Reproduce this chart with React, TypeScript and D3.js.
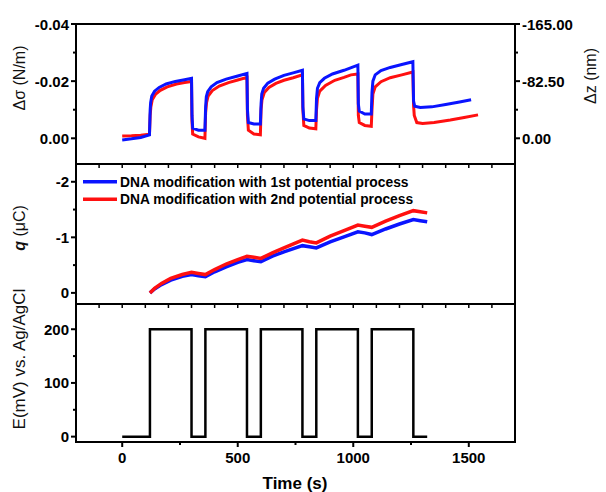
import React from "react";
import * as d3 from "d3";

// ---------- data ----------
const sigmaBlueT = [0, 40, 80, 118, 121, 123, 128, 140, 160, 190, 230, 270, 300, 302, 305, 330, 358, 361, 364, 370, 385, 410, 450, 500, 540, 542, 546, 570, 598, 601, 604, 612, 630, 660, 700, 740, 780, 782, 786, 810, 838, 841, 845, 855, 875, 910, 960, 1020, 1022, 1026, 1050, 1078, 1081, 1085, 1095, 1120, 1160, 1210, 1258, 1261, 1266, 1290, 1340, 1400, 1460, 1510];
const sigmaBlueV = [0.0006, 0.0002, -0.0003, -0.0012, -0.010, -0.0125, -0.0148, -0.0165, -0.0178, -0.019, -0.0199, -0.0205, -0.021, -0.008, -0.0035, -0.0028, -0.0028, -0.011, -0.0145, -0.0163, -0.018, -0.0195, -0.0207, -0.0218, -0.0227, -0.010, -0.0055, -0.005, -0.005, -0.012, -0.0155, -0.0175, -0.0193, -0.0207, -0.022, -0.0229, -0.0238, -0.011, -0.0068, -0.0062, -0.0062, -0.014, -0.0175, -0.0195, -0.021, -0.0225, -0.0238, -0.0256, -0.012, -0.0095, -0.0085, -0.0085, -0.016, -0.020, -0.0222, -0.0237, -0.0248, -0.0258, -0.0268, -0.013, -0.0112, -0.0108, -0.011, -0.0118, -0.0127, -0.0135];

const sigmaRedT = [0, 40, 80, 118, 121, 124, 130, 145, 165, 195, 235, 270, 300, 302, 305, 330, 358, 361, 365, 372, 390, 420, 460, 500, 540, 542, 546, 570, 598, 601, 605, 615, 635, 665, 700, 740, 780, 782, 786, 810, 838, 841, 845, 855, 880, 920, 960, 990, 1020, 1022, 1026, 1050, 1078, 1081, 1085, 1095, 1120, 1160, 1210, 1258, 1261, 1264, 1275, 1300, 1350, 1420, 1480, 1540];
const sigmaRedV = [-0.0008, -0.0009, -0.0011, -0.0014, -0.008, -0.011, -0.0135, -0.0155, -0.0168, -0.018, -0.019, -0.0195, -0.0199, -0.006, -0.0015, -0.0005, 0.0, -0.009, -0.0125, -0.0148, -0.0167, -0.0183, -0.0195, -0.0204, -0.0213, -0.008, -0.0028, -0.0015, -0.0012, -0.010, -0.0135, -0.016, -0.0178, -0.0192, -0.0203, -0.0212, -0.0222, -0.010, -0.0045, -0.0036, -0.0033, -0.010, -0.014, -0.0165, -0.0185, -0.0203, -0.0213, -0.0222, -0.0225, -0.008, -0.0055, -0.0045, -0.0042, -0.010, -0.0155, -0.018, -0.0198, -0.0212, -0.0222, -0.0232, -0.0115, -0.008, -0.0055, -0.0052, -0.0055, -0.0064, -0.0073, -0.0082];

const qT = [120, 140, 170, 210, 260, 300, 330, 360, 400, 450, 500, 540, 570, 600, 650, 700, 780, 810, 840, 900, 960, 1020, 1050, 1080, 1140, 1200, 1260, 1290, 1320];
const qBlue = [0, -0.07, -0.15, -0.23, -0.30, -0.33, -0.31, -0.29, -0.38, -0.47, -0.55, -0.60, -0.58, -0.56, -0.66, -0.74, -0.85, -0.83, -0.81, -0.92, -1.01, -1.10, -1.08, -1.05, -1.15, -1.24, -1.32, -1.30, -1.28];
const qRed = [0, -0.08, -0.17, -0.26, -0.33, -0.37, -0.35, -0.33, -0.42, -0.52, -0.60, -0.66, -0.64, -0.62, -0.72, -0.81, -0.95, -0.92, -0.90, -1.02, -1.12, -1.22, -1.20, -1.18, -1.29, -1.39, -1.48, -1.46, -1.44];

const eT = [0, 120, 120, 300, 300, 360, 360, 540, 540, 600, 600, 780, 780, 840, 840, 1020, 1020, 1080, 1080, 1260, 1260, 1320];
const eV = [0, 0, 200, 200, 0, 0, 200, 200, 0, 0, 200, 200, 0, 0, 200, 200, 0, 0, 200, 200, 0, 0];

const sigmaMajor = [-0.04, -0.02, 0];
const sigmaMinor = [-0.03, -0.01];
const zMajor = [-165, -82.5, 0];
const zMinor = [-123.75, -41.25];
const qMajor = [-2, -1, 0];
const qMinor = [-1.5, -0.5];
const eMajor = [200, 100, 0];
const eMinor = [150, 50];
const timeMajor = [0, 500, 1000, 1500];
const timeMinor = [250, 750, 1250];
const timeTicksUpper = [-100, 0, 100, 200, 300, 400, 500, 600, 700, 800, 900, 1000, 1100, 1200, 1300, 1400, 1500, 1600];

const legendLabels = ["DNA modification with 1st potential process", "DNA modification with 2nd potential process"];
const BLUE = "#0a14ff";
const RED = "#ff1010";

// ---------- layout ----------
const X0 = 76, X1 = 515;
const P1 = [24, 164], P2 = [164, 304], P3 = [304, 442];
const FONT = "'Liberation Sans', Arial, sans-serif";

export default function App() {
  const x = d3.scaleLinear().domain([-200, 1700]).range([X0, X1]);
  const yS = d3.scaleLinear().domain([0.009, -0.04]).range([P1[1], P1[0]]);
  const yZ = d3.scaleLinear().domain([0.009 * 4125, -165]).range([P1[1], P1[0]]);
  const yQ = d3.scaleLinear().domain([0.2, -2.32]).range([P2[1], P2[0]]);
  const yE = d3.scaleLinear().domain([-10, 247]).range([P3[1], P3[0]]);

  const mk = (ts: number[], vs: number[], ys: d3.ScaleLinear<number, number>) =>
    d3.line<number>().x((_, i) => x(ts[i])).y((v) => ys(v))(vs) || "";

  const fmtS = (v: number) => (v === 0 ? "0.00" : v.toFixed(2));
  const fmtZ = (v: number) => (v === 0 ? "0.00" : v.toFixed(2));

  const leftTicks = (ys: d3.ScaleLinear<number, number>, major: number[], minor: number[], fmt: (v: number) => string) => (
    <g>
      {major.map((v) => (
        <g key={"M" + v}>
          <line x1={X0 - 5} x2={X0} y1={ys(v)} y2={ys(v)} stroke="#000" strokeWidth={2} />
          <text x={X0 - 7} y={ys(v) + 5.5} textAnchor="end" fontSize={15} fontWeight="bold">{fmt(v)}</text>
        </g>
      ))}
      {minor.map((v) => (
        <line key={"m" + v} x1={X0 - 3} x2={X0} y1={ys(v)} y2={ys(v)} stroke="#000" strokeWidth={2} />
      ))}
    </g>
  );

  return (
    <svg width={606} height={492} style={{ position: "absolute", left: 0, top: 0, background: "#fff" }} fontFamily={FONT}>
      <rect width={606} height={492} fill="#fff" />
      {/* data */}
      <path d={mk(sigmaRedT, sigmaRedV, yS)} fill="none" stroke={RED} strokeWidth={3} />
      <path d={mk(sigmaBlueT, sigmaBlueV, yS)} fill="none" stroke={BLUE} strokeWidth={3} />
      <path d={mk(qT, qBlue, yQ)} fill="none" stroke={BLUE} strokeWidth={3.5} />
      <path d={mk(qT, qRed, yQ)} fill="none" stroke={RED} strokeWidth={3.5} />
      <path d={mk(eT, eV, yE)} fill="none" stroke="#000" strokeWidth={2.5} />

      {/* frames */}
      {[P1, P2, P3].map((p, i) => (
        <rect key={i} x={X0} y={p[0]} width={X1 - X0} height={p[1] - p[0]} fill="none" stroke="#000" strokeWidth={2} />
      ))}

      {/* upper x ticks */}
      {[P1, P2].map((p, i) => (
        <g key={"ux" + i}>
          {timeTicksUpper.map((t) => (
            <line key={t} x1={x(t)} x2={x(t)} y1={p[1]} y2={p[1] + 4} stroke="#000" strokeWidth={1.5} />
          ))}
        </g>
      ))}

      {/* bottom x axis */}
      {timeMajor.map((t) => (
        <g key={"tM" + t}>
          <line x1={x(t)} x2={x(t)} y1={P3[1]} y2={P3[1] + 5} stroke="#000" strokeWidth={2} />
          <text x={x(t)} y={P3[1] + 21} textAnchor="middle" fontSize={15} fontWeight="bold">{t}</text>
        </g>
      ))}
      {timeMinor.map((t) => (
        <line key={"tm" + t} x1={x(t)} x2={x(t)} y1={P3[1]} y2={P3[1] + 3} stroke="#000" strokeWidth={2} />
      ))}
      <text x={295} y={489} textAnchor="middle" fontSize={17} fontWeight="bold">Time (s)</text>

      {/* left axes */}
      {leftTicks(yS, sigmaMajor, sigmaMinor, fmtS)}
      {leftTicks(yQ, qMajor, qMinor, (v) => String(v))}
      {leftTicks(yE, eMajor, eMinor, (v) => String(v))}

      {/* right axis */}
      {zMajor.map((v) => (
        <g key={"zM" + v}>
          <line x1={X1} x2={X1 + 5} y1={yZ(v)} y2={yZ(v)} stroke="#000" strokeWidth={2} />
          <text x={X1 + 7} y={yZ(v) + 5.5} textAnchor="start" fontSize={15} fontWeight="bold">{fmtZ(v)}</text>
        </g>
      ))}
      {zMinor.map((v) => (
        <line key={"zm" + v} x1={X1} x2={X1 + 3} y1={yZ(v)} y2={yZ(v)} stroke="#000" strokeWidth={2} />
      ))}

      {/* axis titles */}
      <text transform="translate(25,78) rotate(-90)" textAnchor="middle" fontSize={16} fill="#111">Δσ (N/m)</text>
      <text transform="translate(25,228) rotate(-90)" textAnchor="middle" fontSize={16} fill="#111">
        <tspan fontStyle="italic" fontWeight="bold">q</tspan> (μC)
      </text>
      <text transform="translate(25,359) rotate(-90)" textAnchor="middle" fontSize={17} fill="#111">E(mV) vs. Ag/AgCl</text>
      <text transform="translate(596,76) rotate(-90)" textAnchor="middle" fontSize={16} fill="#111">Δz (nm)</text>

      {/* legend */}
      <line x1={83} x2={117} y1={181.7} y2={181.7} stroke={BLUE} strokeWidth={3.5} />
      <text x={120} y={186.5} fontSize={13.8} fontWeight="bold">{legendLabels[0]}</text>
      <line x1={83} x2={117} y1={199.3} y2={199.3} stroke={RED} strokeWidth={3.5} />
      <text x={120} y={204} fontSize={13.8} fontWeight="bold">{legendLabels[1]}</text>
    </svg>
  );
}
